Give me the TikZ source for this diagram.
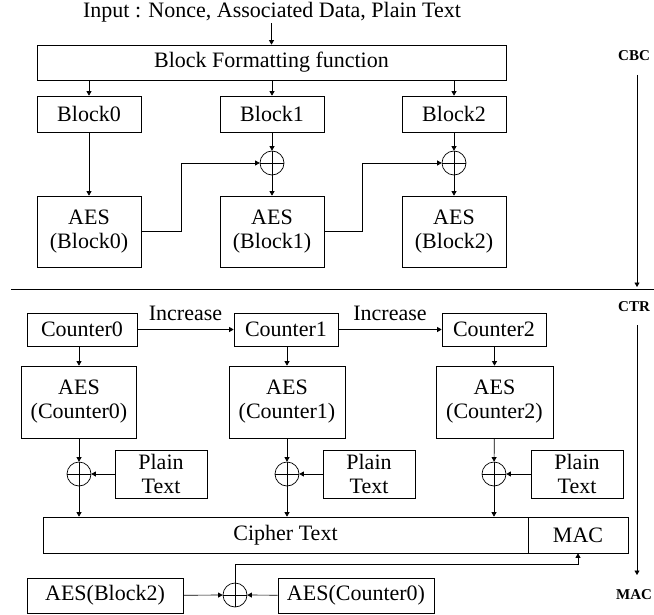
\documentclass[tikz,border=0pt]{standalone}
\usepackage{fontspec}
\setmainfont{Liberation Serif}
\usetikzlibrary{arrows.meta,positioning,calc}

\begin{document}
\begin{tikzpicture}[x=1bp, y=-1bp,
  box/.style={rectangle, draw, line width=0.7bp, inner sep=0pt, align=center, font=\fontsize{22bp}{24bp}\selectfont, minimum width=#1},
  xor/.style={circle, draw, line width=0.7bp, minimum size=24bp, inner sep=0pt,
    path picture={\draw[line width=0.7bp] (path picture bounding box.north) -- (path picture bounding box.south)
      (path picture bounding box.west) -- (path picture bounding box.east);}},
  arr/.style={-{Triangle[length=4.5bp, width=5bp]}, line width=0.7bp},
  ln/.style={line width=0.7bp},
  tag/.style={font=\fontsize{15bp}{16bp}\selectfont\bfseries, inner sep=0pt}
]
  \useasboundingbox (0,0) rectangle (654,615);

  % CBC part
  \node[font=\fontsize{22bp}{24bp}\selectfont, inner sep=1bp] (inp) at (272,12) {Input : Nonce, Associated Data, Plain Text};
  \node[box=469bp, minimum height=35bp] (fmt) at (271.5,62.5) {Block Formatting function};
  \node[box=104bp, minimum height=36bp] (blk0) at (89,114) {Block0};
  \node[box=104bp, minimum height=36bp] (blk1) at (272,114) {Block1};
  \node[box=104bp, minimum height=36bp] (blk2) at (454,114) {Block2};
  \node[xor] (x1) at (272,163) {};
  \node[xor] (x2) at (454,163) {};
  \node[box=104bp, minimum height=71bp] (aesb0) at (89,231.5) {AES\\(Block0)};
  \node[box=104bp, minimum height=71bp] (aesb1) at (272,231.5) {AES\\(Block1)};
  \node[box=104bp, minimum height=71bp] (aesb2) at (454,231.5) {AES\\(Block2)};

  \draw[arr] (inp.south -| fmt) -- (fmt.north);
  \draw[arr] (blk0.north |- fmt.south) -- (blk0.north);
  \draw[arr] (blk1.north |- fmt.south) -- (blk1.north);
  \draw[arr] (blk2.north |- fmt.south) -- (blk2.north);
  \draw[arr] (blk0) -- (aesb0);
  \draw[arr] (blk1) -- (x1);
  \draw[arr] (x1) -- (aesb1);
  \draw[arr] (blk2) -- (x2);
  \draw[arr] (x2) -- (aesb2);
  \draw[arr] (aesb0.east) -- ++(40,0) |- (x1.west);
  \draw[arr] (aesb1.east) -- ++(38,0) |- (x2.west);

  % separator and side arrows
  \draw[ln] (11,289) -- (654,289);
  \node[tag] (cbc) at (634,56) {CBC};
  \node[tag] (ctr) at (634,307) {CTR};
  \node[tag] (mactag) at (634,595) {MAC};
  \coordinate (s1) at (637,75);
  \coordinate (s2) at (637,287);
  \coordinate (s3) at (637,325);
  \coordinate (s4) at (637,575);
  \draw[arr] (s1) -- (s2);
  \draw[arr] (s3) -- (s4);

  % CTR part
  \node[box=110bp, minimum height=33bp] (cnt0) at (82,329.5) {Counter0};
  \node[box=104bp, minimum height=33bp] (cnt1) at (286,329.5) {Counter1};
  \node[box=104bp, minimum height=33bp] (cnt2) at (494,329.5) {Counter2};
  \node[box=115bp, minimum height=72bp] (aesc0) at (79,402) {AES\\(Counter0)};
  \node[box=116bp, minimum height=72bp] (aesc1) at (287,402) {AES\\(Counter1)};
  \node[box=117bp, minimum height=72bp] (aesc2) at (494.5,402) {AES\\(Counter2)};
  \node[xor] (xc0) at (79,474) {};
  \node[xor] (xc1) at (287,474) {};
  \node[xor] (xc2) at (494,474) {};
  \node[box=92bp, minimum height=48bp] (pt0) at (161,474) {Plain\\Text};
  \node[box=92bp, minimum height=48bp] (pt1) at (369,474) {Plain\\Text};
  \node[box=92bp, minimum height=48bp] (pt2) at (577,474) {Plain\\Text};
  \node[box=485bp, minimum height=36bp] (ct) at (285.5,535) {Cipher Text};
  \node[box=100bp, minimum height=36bp] (mac) at (578,535) {MAC};

  \draw[arr] (cnt0) -- node[above=7bp, font=\fontsize{22bp}{24bp}\selectfont, inner sep=1bp] {Increase} (cnt1);
  \draw[arr] (cnt1) -- node[above=7bp, font=\fontsize{22bp}{24bp}\selectfont, inner sep=1bp] {Increase} (cnt2);
  \draw[arr] (aesc0.north |- cnt0.south) -- (aesc0.north);
  \draw[arr] (aesc1.north |- cnt1.south) -- (aesc1.north);
  \draw[arr] (aesc2.north |- cnt2.south) -- (aesc2.north);
  \draw[arr] (aesc0) -- (xc0);
  \draw[arr] (aesc1) -- (xc1);
  \draw[arr] (aesc2) -- (xc2);
  \draw[arr] (pt0) -- (xc0);
  \draw[arr] (pt1) -- (xc1);
  \draw[arr] (pt2) -- (xc2);
  \draw[arr] (xc0) -- (xc0 |- ct.north);
  \draw[arr] (xc1) -- (xc1 |- ct.north);
  \draw[arr] (xc2) -- (xc2 |- ct.north);

  % MAC part
  \node[box=156bp, minimum height=35bp] (aesb2b) at (105,595.5) {AES(Block2)};
  \node[xor] (xm) at (235,595) {};
  \node[box=156bp, minimum height=35bp] (aesc0b) at (356,595.5) {AES(Counter0)};
  \draw[arr] (aesb2b) -- (xm);
  \draw[arr] (aesc0b) -- (xm);
  \draw[arr] (xm.north) -- ++(0,-18) -| (mac.south);
\end{tikzpicture}
\end{document}
